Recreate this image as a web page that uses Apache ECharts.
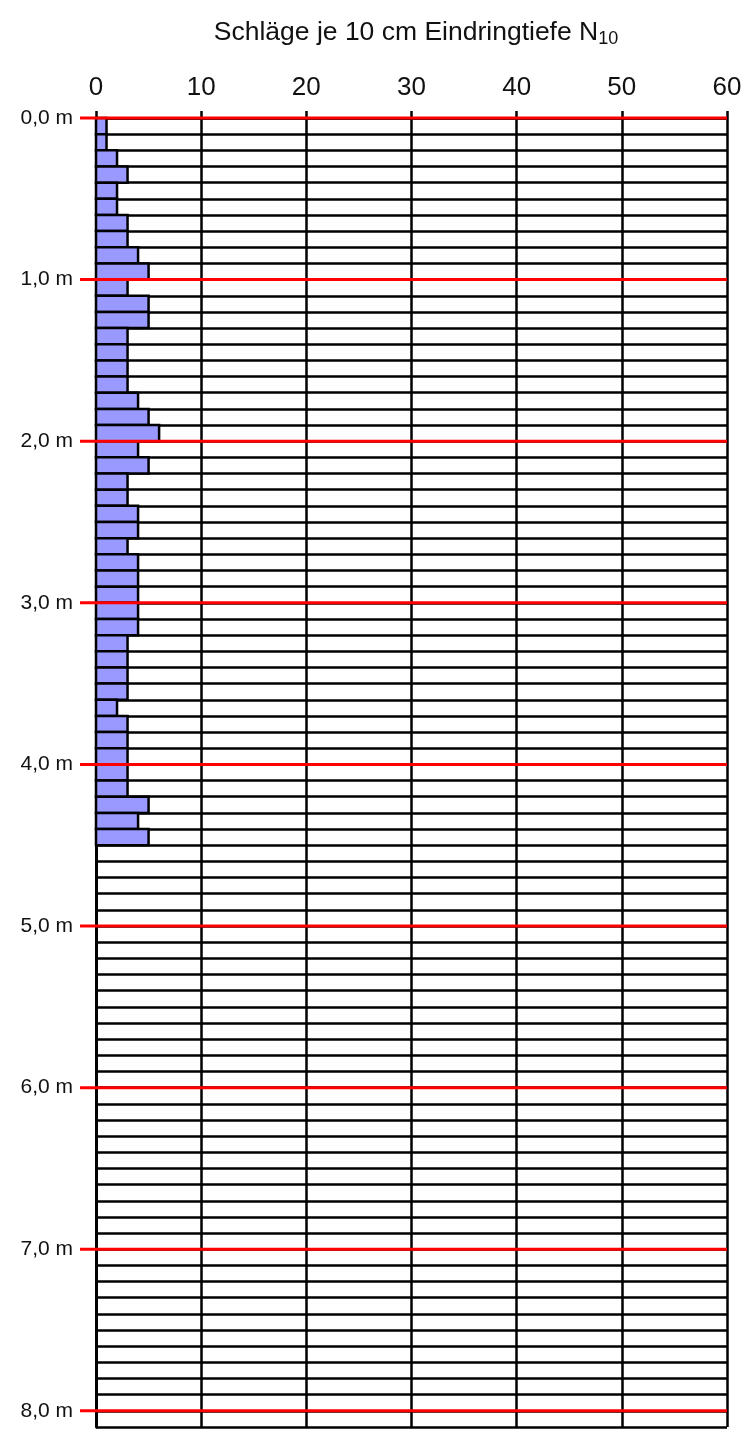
<!DOCTYPE html>
<html>
<head>
<meta charset="utf-8">
<script src="https://cdn.jsdelivr.net/npm/echarts@6/dist/echarts.min.js"></script>
<style>
  html, body { margin: 0; padding: 0; background: #fff; }
  #chart { width: 754px; height: 1432px; }
</style>
</head>
<body>
<div id="chart"></div>
<script>
// Blows per 10 cm penetration (N10), one value per 10 cm row, from 0,0 m downwards
const n10 = [
  1, 1, 2, 3, 2, 2, 3, 3, 4, 5,
  3, 5, 5, 3, 3, 3, 3, 4, 5, 6,
  4, 5, 3, 3, 4, 4, 3, 4, 4, 4,
  4, 4, 3, 3, 3, 3, 2, 3, 3, 3,
  3, 3, 5, 4, 5
];
const rowCm = 10;                 // row height of the log in cm
const depthMaxCm = 810;           // log sheet depth
const metreMarksCm = [0, 100, 200, 300, 400, 500, 600, 700, 800];
const blowsMin = 0, blowsMax = 60, blowsStep = 10;

const FONT = '"Liberation Sans", Arial, Helvetica, sans-serif';

const chart = echarts.init(document.getElementById('chart'), null, { renderer: 'canvas' });

chart.setOption({
  backgroundColor: '#ffffff',
  animation: false,
  title: {
    text: '{m|Schläge je 10 cm Eindringtiefe N}{s|10}',
    left: 411,
    top: 12,
    textAlign: 'center',
    textStyle: {
      fontWeight: 'normal',
      rich: {
        m: { fontFamily: FONT, fontSize: 26.5, fontWeight: 'normal', color: '#111', lineHeight: 32 },
        s: { fontFamily: FONT, fontSize: 18, fontWeight: 'normal', color: '#111', lineHeight: 32, padding: [13, 0, 0, 0] }
      }
    }
  },
  grid: { left: 96, right: 27, top: 118, bottom: 5 },
  xAxis: {
    type: 'value',
    position: 'top',
    min: blowsMin,
    max: blowsMax,
    interval: blowsStep,
    axisLine: { show: true, lineStyle: { color: '#000', width: 2.5 } },
    axisTick: { show: true, length: 7, lineStyle: { color: '#000', width: 2.5 } },
    axisLabel: { fontFamily: FONT, fontSize: 26, color: '#111', margin: 17 },
    splitLine: { show: true, lineStyle: { color: '#000', width: 2.5 } }
  },
  yAxis: {
    type: 'value',
    inverse: true,
    min: 0,
    max: depthMaxCm,
    interval: rowCm,
    axisLine: { show: true, lineStyle: { color: '#000', width: 3 } },
    axisTick: { show: false },
    axisLabel: {
      fontFamily: FONT,
      fontSize: 21,
      color: '#111',
      margin: 23,
      formatter: function (v) {
        if (v % 100 !== 0) return '';
        return (v / 100).toFixed(1).replace('.', ',') + ' m';
      }
    },
    splitLine: { show: true, lineStyle: { color: '#000', width: 2.5 } }
  },
  series: [
    {
      // one bar per 10 cm row, from 0 blows to N10
      type: 'custom',
      name: 'N10',
      coordinateSystem: 'cartesian2d',
      encode: { x: 1, y: 0 },
      data: n10.map(function (v, i) { return [i * rowCm, v]; }),
      z: 3,
      renderItem: function (params, api) {
        const top = api.value(0);
        const n = api.value(1);
        const p0 = api.coord([0, top]);
        const p1 = api.coord([n, top + rowCm]);
        return {
          type: 'rect',
          shape: { x: p0[0], y: p0[1], width: p1[0] - p0[0], height: p1[1] - p0[1] },
          style: { fill: '#9999ff', stroke: '#000', lineWidth: 2.5 }
        };
      }
    },
    {
      // metre marks, reaching a little past the depth axis
      type: 'custom',
      name: 'metre',
      coordinateSystem: 'cartesian2d',
      encode: { y: 0 },
      data: metreMarksCm.map(function (d) { return [d]; }),
      z: 5,
      renderItem: function (params, api) {
        const d = api.value(0);
        const a = api.coord([blowsMin, d]);
        const b = api.coord([blowsMax, d]);
        return {
          type: 'line',
          shape: { x1: a[0] - 16, y1: a[1], x2: b[0], y2: b[1] },
          style: { stroke: '#ff0000', lineWidth: 3 }
        };
      }
    }
  ]
});
</script>
</body>
</html>
